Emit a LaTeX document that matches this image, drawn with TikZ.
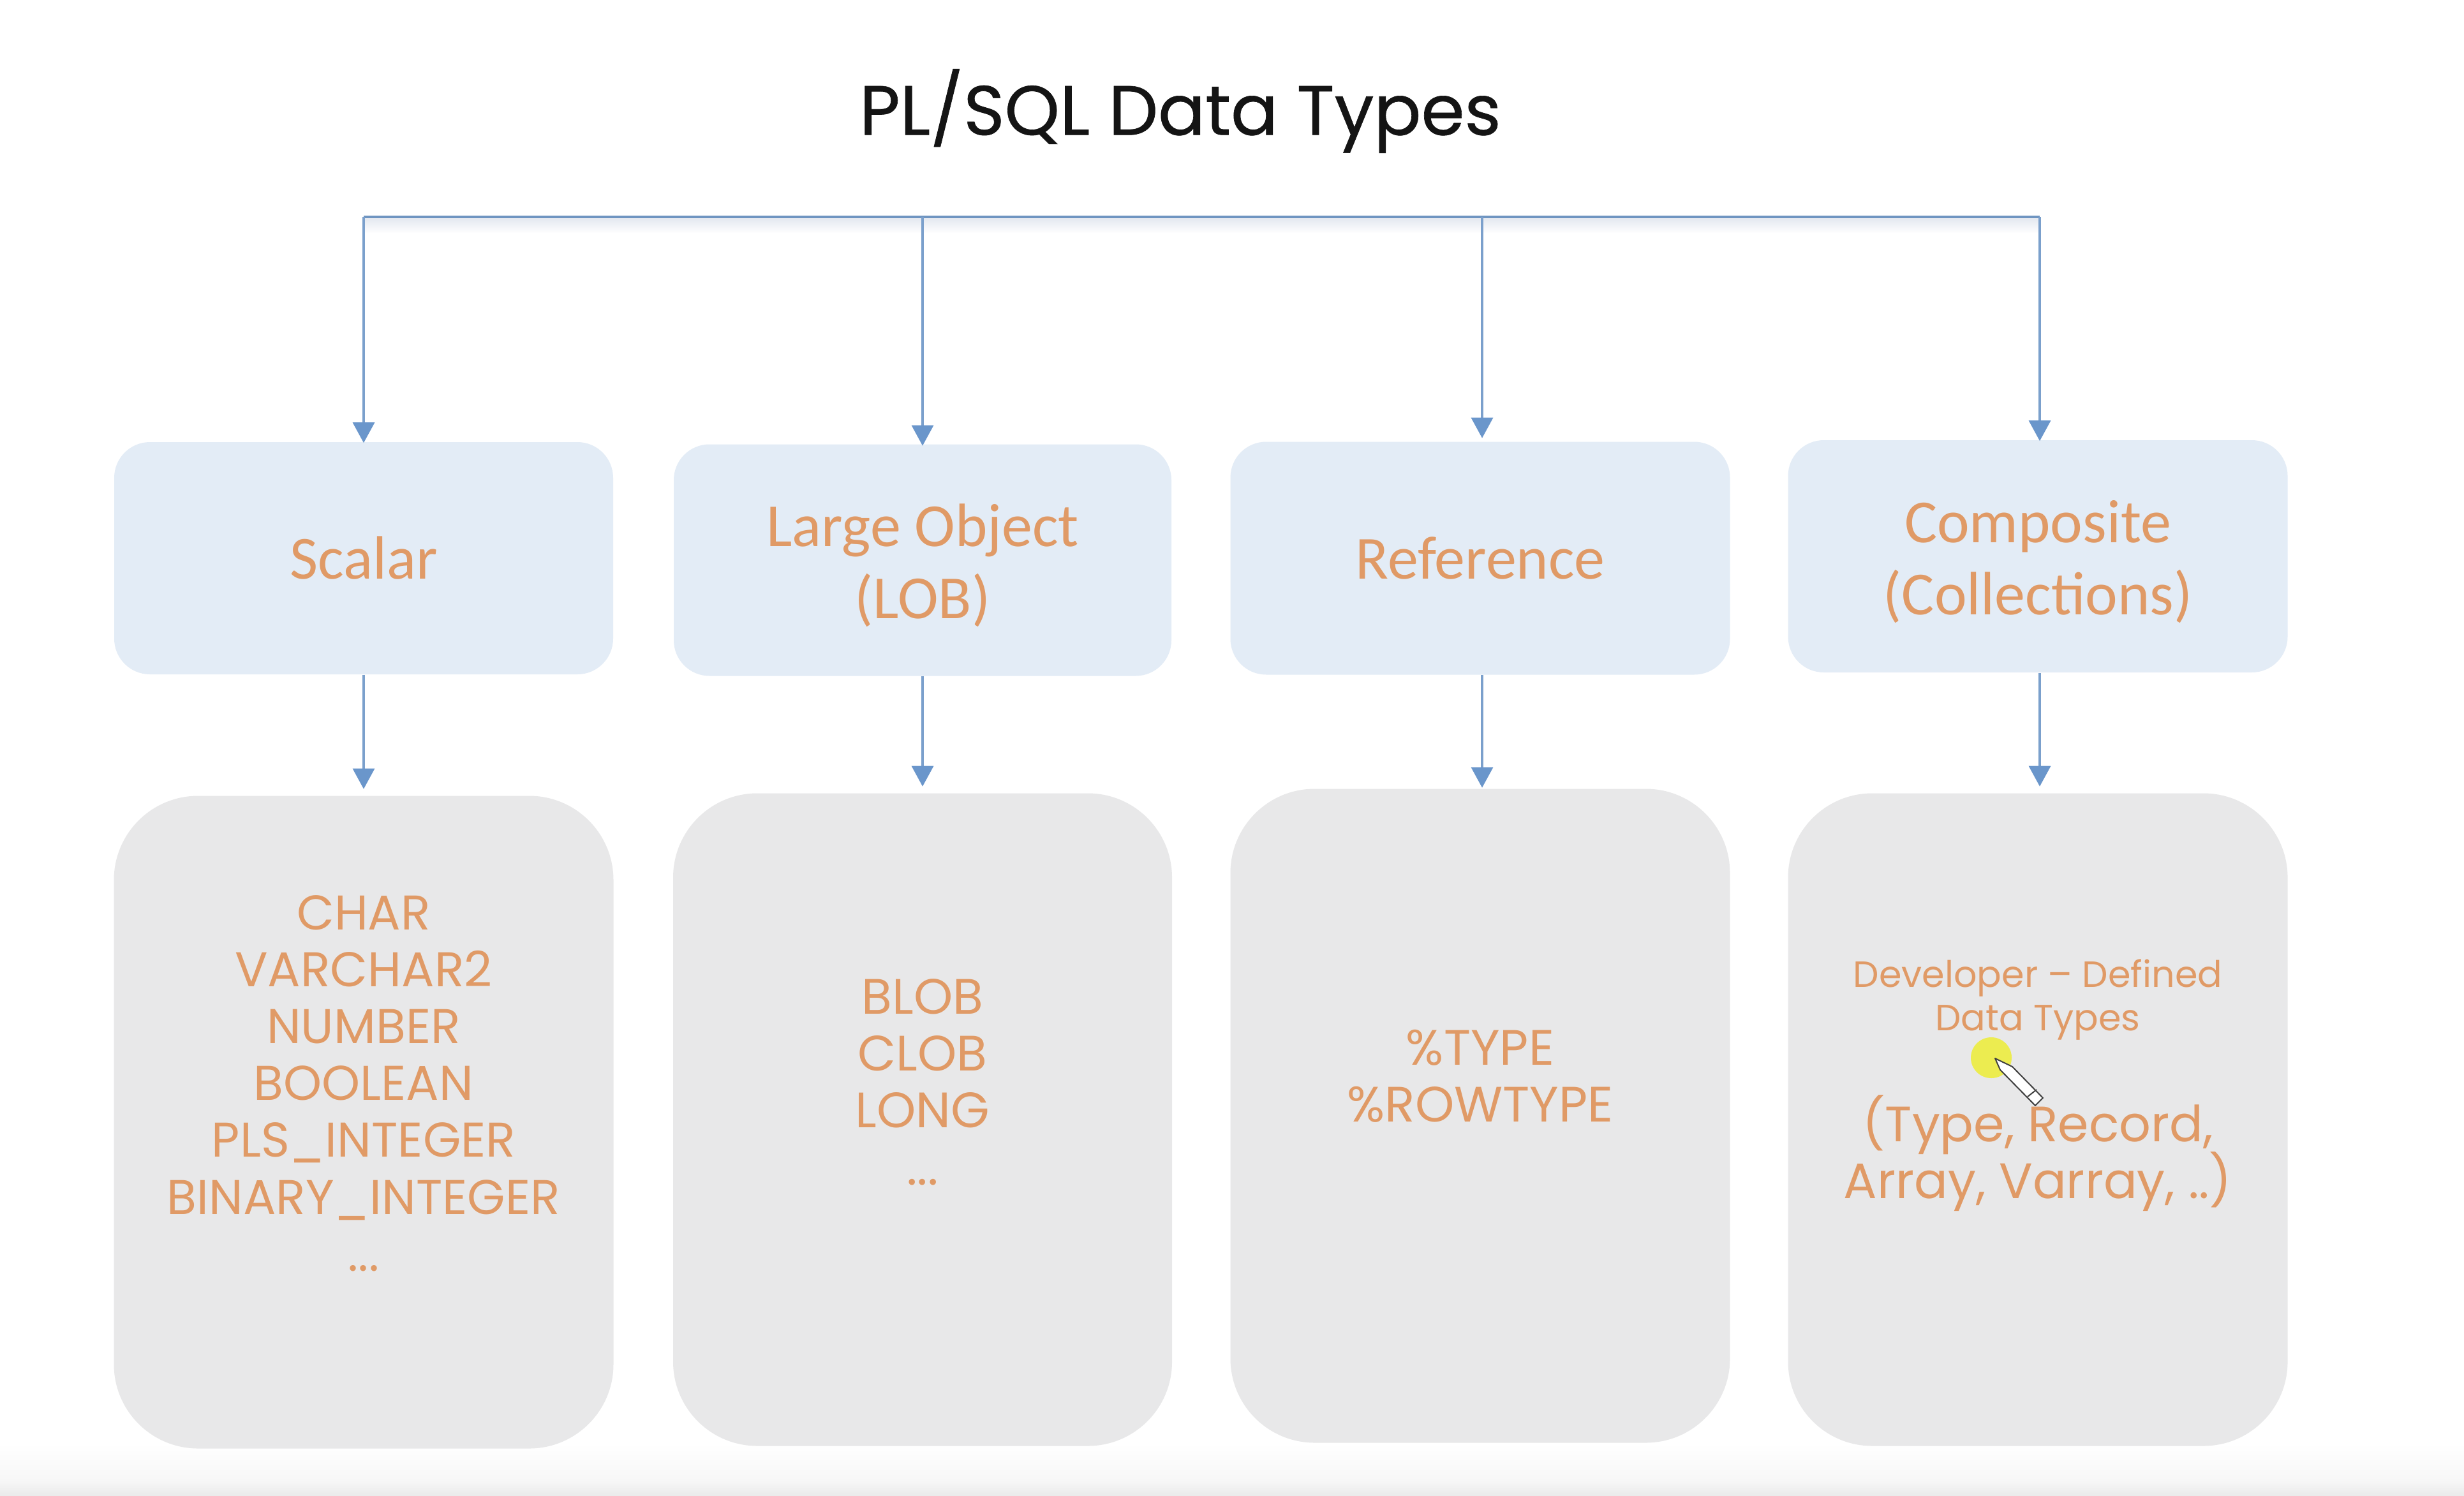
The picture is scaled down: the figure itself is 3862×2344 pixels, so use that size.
\documentclass[tikz,border=0pt]{standalone}
\usepackage{fontspec}
\setmainfont{Poppins}
\newfontfamily\labelfont{Carlito}
\newfontfamily\titlefont{Poppins}[FakeBold=0.6]
\usetikzlibrary{arrows.meta}
\definecolor{linecol}{HTML}{7BA0CC}
\definecolor{trunkcol}{HTML}{6F95C1}
\definecolor{headcol}{HTML}{6A96CB}
\definecolor{bluefill}{HTML}{E3ECF6}
\definecolor{grayfill}{HTML}{E8E8E9}
\definecolor{txtcol}{HTML}{E09A66}
\definecolor{shadowcol}{HTML}{E4E8F0}
\definecolor{highlight}{HTML}{ECEC50}
\newcommand{\tightlines}{\setlength{\lineskiplimit}{-20pt}}
\tikzset{
  x=0.25pt,y=-0.25pt,
  bluebox/.style={fill=bluefill,draw=none,rounded corners=14pt,inner sep=0pt},
  graybox/.style={fill=grayfill,draw=none,rounded corners=33pt,inner sep=0pt},
  labeltext/.style={text=txtcol,inner sep=0pt,align=center,font=\labelfont\fontsize{24}{28.3}\selectfont},
  bodytext/.style={text=txtcol,inner sep=0pt,align=center,font=\fontsize{19.5}{22.3}\selectfont,execute at begin node=\tightlines},
  listtext/.style={text=txtcol,inner sep=0pt,align=center,font=\fontsize{19.1}{22.3}\selectfont,execute at begin node=\tightlines},
  smalltext/.style={text=txtcol,inner sep=0pt,align=center,font=\fontsize{14.3}{17.2}\selectfont,execute at begin node=\tightlines},
  conn/.style={draw=linecol,line width=0.8pt,-{Triangle[length=8pt,width=8.5pt,fill=headcol,color=headcol]}},
}
\newcommand{\boxat}[5]{\node[#1,minimum width=#4*0.25pt,minimum height=#5*0.25pt] (#2) at (#3) {};}
\begin{document}
\begin{tikzpicture}
\useasboundingbox (0,0) rectangle (3862,2344);
\fill[white] (0,0) rectangle (3862,2344);
% soft page edge at the bottom
\shade[top color=white,bottom color=white!97!black] (0,2262) rectangle (3862,2320);
\shade[top color=white!97!black,bottom color=white!92!black] (0,2320) rectangle (3862,2344);
% soft shadow beneath the trunk
\shade[top color=shadowcol,bottom color=white] (570,342) rectangle (3197,366);

\node[inner sep=0pt,font=\titlefont\fontsize{27.4}{32}\selectfont,text=black!92] (title) at (1850,174) {PL/SQL Data Types};

\boxat{bluebox}{b1}{570,875}{782}{364}
\boxat{bluebox}{b2}{1446,878}{780}{363}
\boxat{bluebox}{b3}{2320,875}{783}{365}
\boxat{bluebox}{b4}{3194,872}{783}{364}

\boxat{graybox}{g1}{570,1759}{783}{1023}
\boxat{graybox}{g2}{1446,1755}{782}{1023}
\boxat{graybox}{g3}{2320,1749}{783}{1025}
\boxat{graybox}{g4}{3194,1755}{783}{1023}

\node[labeltext] (l1) at (570,875) {Scalar};
\node[labeltext] (l2) at (1446,886) {Large Object\\(LOB)};
\node[labeltext] (l3) at (2320,875) {Reference};
\node[labeltext] (l4) at (3194,881) {Composite\\(Collections)};

\node[listtext] (t1) at (570,1698) {CHAR\\VARCHAR2\\NUMBER\\BOOLEAN\\PLS\_INTEGER\\BINARY\_INTEGER\\...};
\node[bodytext] (t2) at (1446,1696) {BLOB\\CLOB\\LONG\\...};
\node[bodytext] (t3) at (2320,1687) {\%TYPE\\\%ROWTYPE};
\node[smalltext] (t4a) at (3194,1567) {Developer – Defined\\Data Types};
\node[bodytext] (t4b) at (3194,1808) {(Type, Record,\\Array, Varray, ..)};

\coordinate (c1) at (570,340);
\coordinate (c2) at (1446,340);
\coordinate (c3) at (2323,340);
\coordinate (c4) at (3197,340);
\draw[trunkcol,line width=1pt] (c1) -- (c4);
\draw[conn,shorten >=-0.5pt] (c1) -- (c1 |- b1.north);
\draw[conn,shorten >=-0.75pt] (c2) -- (c2 |- b2.north);
\draw[conn,shorten >=1.25pt] (c3) -- (c3 |- b3.north);
\draw[conn,shorten >=-0.5pt] (c4) -- (c4 |- b4.north);
\draw[conn,shorten >=2.5pt] (b1.south) -- (b1.south |- g1.north);
\draw[conn,shorten >=2.5pt] (b2.south) -- (b2.south |- g2.north);
\draw[conn,shorten >=0.25pt] (c3 |- b3.south) -- (c3 |- g3.north);
\draw[conn,shorten >=2.5pt] (c4 |- b4.south) -- (c4 |- g4.north);

% highlighter and pen cursor
\fill[highlight] (3121,1658) circle[radius=32];
\filldraw[fill=white,draw=black!75,line width=0.5pt,line join=round]
  (3127,1659) -- (3154,1672) -- (3202,1721) -- (3190,1733) -- (3135,1677) -- cycle;
\draw[black!75,line width=0.5pt] (3178,1719) -- (3192,1708);
\end{tikzpicture}
\end{document}
